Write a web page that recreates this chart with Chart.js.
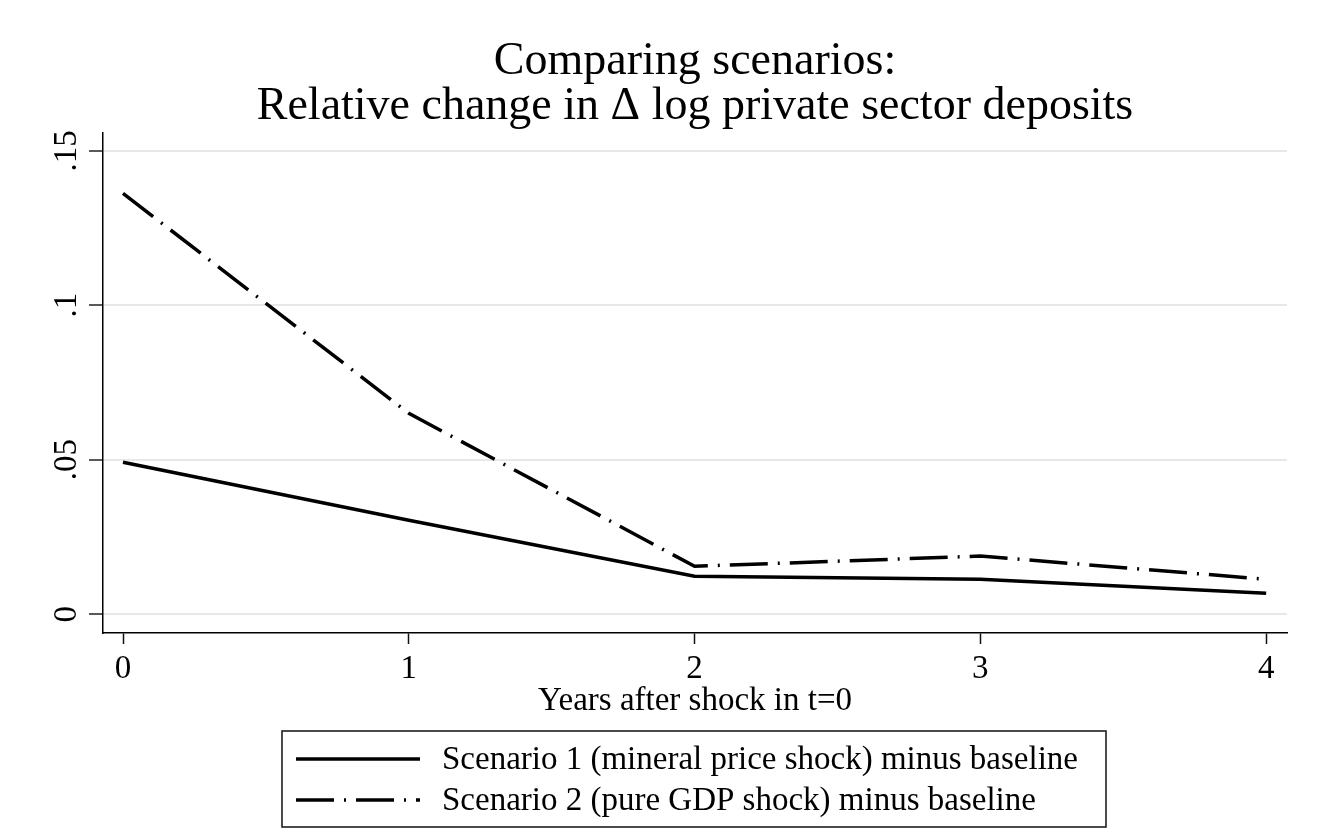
<!DOCTYPE html>
<html>
<head>
<meta charset="utf-8">
<title>Comparing scenarios</title>
<script src="https://cdn.jsdelivr.net/npm/chart.js@4.4.0/dist/chart.umd.min.js"></script>
<style>
  html, body { margin: 0; padding: 0; background: #fff; }
  #wrap { width: 1320px; height: 837px; }
</style>
</head>
<body>
<div id="wrap"><canvas id="scenarioChart" width="1320" height="837"></canvas></div>
<script>
// values
const years = [0, 1, 2, 3, 4];
const scenario1 = [0.0492, 0.0304, 0.0123, 0.0113, 0.0068];
const scenario2 = [0.1362, 0.0650, 0.0155, 0.0188, 0.0113];
const xTicks = [0, 1, 2, 3, 4];
const yTicks = [0, 0.05, 0.1, 0.15];
const yTickLabels = ['0', '.05', '.1', '.15'];
const seriesLabels = [
  'Scenario 1 (mineral price shock) minus baseline',
  'Scenario 2 (pure GDP shock) minus baseline'
];

const serif = '"Liberation Serif", "Times New Roman", serif';
Chart.defaults.font.family = serif;
Chart.defaults.color = '#000';

function points(vals) {
  return years.map((x, i) => ({ x, y: vals[i] }));
}

// y tick labels are rotated, and the legend sits in a box like Stata's
const stataDecor = {
  id: 'stataDecor',
  afterDraw(chart) {
    const { ctx, scales: { y } } = chart;
    ctx.save();
    ctx.fillStyle = '#000';
    ctx.font = '33px ' + serif;
    ctx.textAlign = 'center';
    ctx.textBaseline = 'alphabetic';
    yTicks.forEach((v, i) => {
      ctx.save();
      ctx.translate(76, y.getPixelForValue(v));
      ctx.rotate(-Math.PI / 2);
      ctx.fillText(yTickLabels[i], 0, 0);
      ctx.restore();
    });

    // legend box
    ctx.lineWidth = 1.5;
    ctx.strokeStyle = '#111';
    ctx.strokeRect(282, 731, 824, 96);
    ctx.textAlign = 'left';
    ctx.textBaseline = 'middle';
    chart.data.datasets.forEach((ds, i) => {
      const ly = 759 + i * 41;
      ctx.beginPath();
      ctx.setLineDash(ds.borderDash || []);
      ctx.lineWidth = ds.borderWidth;
      ctx.strokeStyle = ds.borderColor;
      ctx.moveTo(296, ly);
      ctx.lineTo(420, ly);
      ctx.stroke();
      ctx.setLineDash([]);
      ctx.fillText(ds.label, 442, ly + 1);
    });
    ctx.restore();
  }
};

const ctx = document.getElementById('scenarioChart').getContext('2d');
new Chart(ctx, {
  type: 'line',
  data: {
    datasets: [
      {
        label: seriesLabels[0],
        data: points(scenario1),
        borderColor: '#000',
        borderWidth: 3.5,
        pointRadius: 0,
        tension: 0
      },
      {
        label: seriesLabels[1],
        data: points(scenario2),
        borderColor: '#000',
        borderWidth: 3.5,
        borderDash: [38, 10, 2, 10],
        pointRadius: 0,
        tension: 0
      }
    ]
  },
  options: {
    responsive: false,
    animation: false,
    // left padding keeps the title centred over the plot, as in the original
    layout: { padding: { top: 39.5, left: 103, right: 33, bottom: 119 } },
    plugins: {
      legend: { display: false },
      tooltip: { enabled: false },
      title: {
        display: true,
        text: ['Comparing scenarios:', 'Relative change in \u0394 log private sector deposits'],
        color: '#000',
        font: { size: 46, weight: 'normal', lineHeight: 0.98 },
        padding: { top: 0, bottom: 3.5 }
      }
    },
    scales: {
      x: {
        type: 'linear',
        min: -0.07,
        max: 4.073,
        afterBuildTicks: s => { s.ticks = xTicks.map(v => ({ value: v })); },
        afterFit: s => { s.height = 85; },
        ticks: {
          font: { size: 33 },
          color: '#000',
          padding: 6,
          maxRotation: 0,
          callback: v => String(v)
        },
        grid: {
          drawOnChartArea: false,
          drawTicks: true,
          tickLength: 11,
          tickColor: '#111',
          tickWidth: 1.5
        },
        border: { display: true, color: '#000', width: 1.5 },
        title: {
          display: true,
          text: 'Years after shock in t=0',
          color: '#000',
          font: { size: 33, lineHeight: 1 },
          padding: { top: 0, bottom: 0 }
        }
      },
      y: {
        type: 'linear',
        min: -0.0061,
        max: 0.1557,
        afterBuildTicks: s => { s.ticks = yTicks.map(v => ({ value: v })); },
        afterFit: s => { s.width = 0; },
        ticks: { display: false },
        grid: {
          color: '#e8e8e8',
          lineWidth: 2,
          drawTicks: true,
          tickLength: 14,
          tickColor: '#222',
          tickWidth: 1.5
        },
        border: { display: true, color: '#000', width: 1.5 }
      }
    }
  },
  plugins: [stataDecor]
});
</script>
</body>
</html>
